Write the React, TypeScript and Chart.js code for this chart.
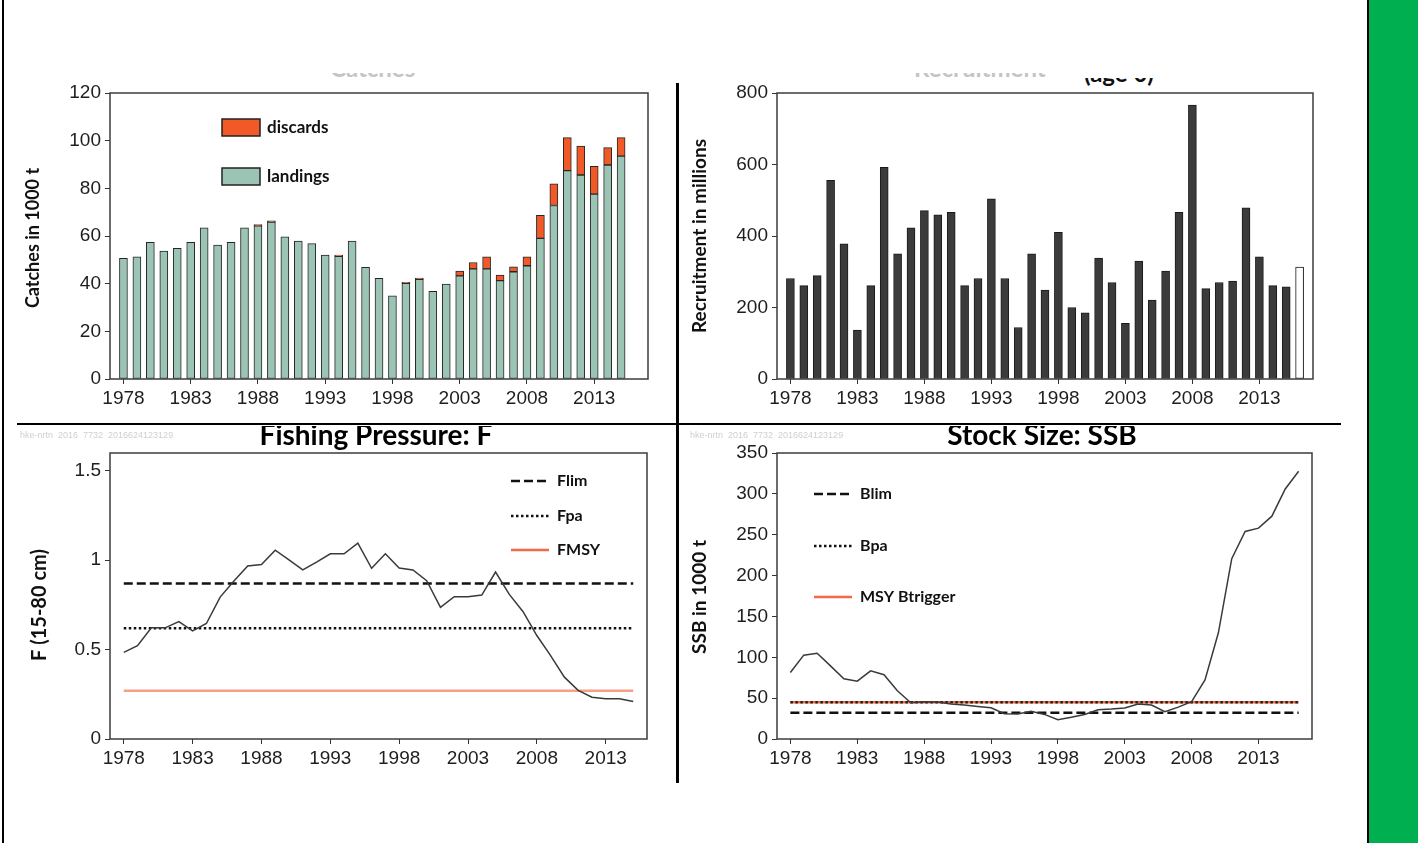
import React, { useEffect, useRef } from 'react';
import { Chart, registerables } from 'chart.js';
Chart.register(...registerables);

// ---------- data ----------
const catchYears = [1978, 1979, 1980, 1981, 1982, 1983, 1984, 1985, 1986, 1987, 1988, 1989, 1990, 1991, 1992, 1993, 1994, 1995, 1996, 1997, 1998, 1999, 2000, 2001, 2002, 2003, 2004, 2005, 2006, 2007, 2008, 2009, 2010, 2011, 2012, 2013, 2014, 2015];
const landings = [50.6, 51.3, 57.3, 53.7, 54.8, 57.3, 63.4, 56.2, 57.3, 63.4, 64.3, 65.8, 59.7, 57.9, 56.8, 52.0, 51.5, 57.9, 46.9, 42.2, 34.9, 40.1, 41.8, 36.8, 39.8, 43.3, 46.2, 46.2, 41.3, 45.0, 47.5, 59.0, 72.8, 87.4, 85.6, 77.6, 89.8, 93.5];
const discards = [0, 0, 0, 0, 0, 0, 0, 0, 0, 0, 0.5, 0.6, 0, 0, 0, 0, 0.5, 0, 0, 0, 0, 0.5, 0.5, 0, 0, 2.0, 2.7, 5.1, 2.3, 2.1, 3.8, 9.7, 9.1, 13.9, 12.1, 11.6, 7.3, 7.8];

const recruitYears = [1978, 1979, 1980, 1981, 1982, 1983, 1984, 1985, 1986, 1987, 1988, 1989, 1990, 1991, 1992, 1993, 1994, 1995, 1996, 1997, 1998, 1999, 2000, 2001, 2002, 2003, 2004, 2005, 2006, 2007, 2008, 2009, 2010, 2011, 2012, 2013, 2014, 2015, 2016];
const recruitment = [281, 261, 289, 556, 378, 137, 261, 592, 350, 423, 471, 459, 466, 261, 281, 504, 281, 144, 350, 249, 410, 200, 185, 338, 270, 156, 330, 221, 302, 466, 766, 253, 270, 274, 479, 342, 261, 258, 313];

const fYears = [1978, 1979, 1980, 1981, 1982, 1983, 1984, 1985, 1986, 1987, 1988, 1989, 1990, 1991, 1992, 1993, 1994, 1995, 1996, 1997, 1998, 1999, 2000, 2001, 2002, 2003, 2004, 2005, 2006, 2007, 2008, 2009, 2010, 2011, 2012, 2013, 2014, 2015];
const fishingMortality = [0.485, 0.522, 0.622, 0.622, 0.657, 0.605, 0.646, 0.794, 0.884, 0.968, 0.976, 1.056, 1.002, 0.946, 0.989, 1.036, 1.036, 1.096, 0.955, 1.036, 0.957, 0.946, 0.886, 0.736, 0.796, 0.796, 0.805, 0.934, 0.809, 0.712, 0.579, 0.466, 0.346, 0.272, 0.234, 0.225, 0.225, 0.210];

const ssbYears = [1978, 1979, 1980, 1981, 1982, 1983, 1984, 1985, 1986, 1987, 1988, 1989, 1990, 1991, 1992, 1993, 1994, 1995, 1996, 1997, 1998, 1999, 2000, 2001, 2002, 2003, 2004, 2005, 2006, 2007, 2008, 2009, 2010, 2011, 2012, 2013, 2014, 2015, 2016];
const ssb = [81.4, 102.6, 105, 89.5, 73.7, 70.8, 83.4, 78.6, 59, 44.4, 45.5, 45.2, 42.7, 41.5, 39.9, 38.3, 30.9, 30.5, 33.8, 30.1, 23.6, 26.5, 30.1, 35.8, 36.6, 37.9, 42.7, 41.5, 33.4, 39, 45.6, 72.4, 130, 220.6, 254, 258, 272.7, 306, 327.6];

const Flim = 0.87;
const Fpa = 0.62;
const Fmsy = 0.27;
const Blim = 32;
const Bpa = 45;
const MSYBtrigger = 45;

const yearTicks = [1978, 1983, 1988, 1993, 1998, 2003, 2008, 2013];
const catchTicks = [0, 20, 40, 60, 80, 100, 120];
const recruitTicks = [0, 200, 400, 600, 800];
const fTicks = [0, 0.5, 1, 1.5];
const ssbTicks = [0, 50, 100, 150, 200, 250, 300, 350];

// ---------- styles ----------
const TICK_FONT = { family: '"Liberation Sans Narrow", "Arial Narrow", "Liberation Sans", Arial, sans-serif', size: 19 };
const TICK_COLOR = '#1e1e1e';
const BOLD = 'Lato, "Open Sans", "Liberation Sans", sans-serif';

type LegendItem = { kind: 'box' | 'line'; text: string; dx: number; dy: number; color: string; dash?: number[]; width?: number };
type Extra = {
  yTitle: { text: string; x: number; y: number; size: number };
  title?: { text: string; x: number; y: number; size: number };
  legend: LegendItem[];
  legendSize: number;
};

function extrasPlugin(ex: Extra) {
  return {
    id: 'extras',
    afterDraw(chart: any) {
      const ctx: CanvasRenderingContext2D = chart.ctx;
      const a = chart.chartArea;
      ctx.save();
      ctx.setLineDash([]);
      ctx.strokeStyle = '#3c3c3c';
      ctx.lineWidth = 1.5;
      ctx.strokeRect(a.left, a.top, a.right - a.left, a.bottom - a.top);
      ctx.save();
      ctx.translate(ex.yTitle.x, ex.yTitle.y);
      ctx.rotate(-Math.PI / 2);
      ctx.font = `bold ${ex.yTitle.size}px ${BOLD}`;
      ctx.fillStyle = '#111';
      ctx.textAlign = 'center';
      ctx.textBaseline = 'middle';
      ctx.fillText(ex.yTitle.text, 0, 0);
      ctx.restore();
      if (ex.title) {
        ctx.font = `bold ${ex.title.size}px ${BOLD}`;
        ctx.fillStyle = '#000';
        ctx.textAlign = 'center';
        ctx.textBaseline = 'middle';
        ctx.fillText(ex.title.text, ex.title.x, ex.title.y);
      }
      ctx.font = `bold ${ex.legendSize}px ${BOLD}`;
      ctx.textAlign = 'left';
      ctx.textBaseline = 'middle';
      ex.legend.forEach((it) => {
        const x = a.left + it.dx;
        const y = a.top + it.dy;
        if (it.kind === 'box') {
          ctx.setLineDash([]);
          ctx.fillStyle = it.color;
          ctx.fillRect(x, y, 38, 17);
          ctx.strokeStyle = '#222';
          ctx.lineWidth = 1.5;
          ctx.strokeRect(x, y, 38, 17);
          ctx.fillStyle = '#111';
          ctx.fillText(it.text, x + 45, y + 8.5);
        } else {
          ctx.setLineDash(it.dash || []);
          ctx.strokeStyle = it.color;
          ctx.lineWidth = it.width || 2;
          ctx.beginPath();
          ctx.moveTo(x, y);
          ctx.lineTo(x + 38, y);
          ctx.stroke();
          ctx.setLineDash([]);
          ctx.fillStyle = '#111';
          ctx.fillText(it.text, x + 46, y);
        }
      });
      ctx.restore();
    },
  };
}

function axisX(min: number, max: number, height: number, stacked = false) {
  return {
    type: 'linear',
    min,
    max,
    offset: false,
    stacked,
    afterBuildTicks: (s: any) => {
      s.ticks = yearTicks.map((v) => ({ value: v }));
    },
    afterFit: (s: any) => {
      s.height = height;
    },
    grid: { display: true, drawOnChartArea: false, drawTicks: true, tickLength: 5, color: '#333', lineWidth: 1, offset: false },
    border: { display: false },
    ticks: { font: TICK_FONT, color: TICK_COLOR, padding: 3, maxRotation: 0, autoSkip: false, callback: (v: any) => String(v) },
  };
}

function axisY(min: number, max: number, ticks: number[], width: number, stacked = false) {
  return {
    type: 'linear',
    min,
    max,
    stacked,
    afterBuildTicks: (s: any) => {
      s.ticks = ticks.map((v) => ({ value: v }));
    },
    afterFit: (s: any) => {
      s.width = width;
    },
    grid: { display: true, drawOnChartArea: false, drawTicks: true, tickLength: 5, color: '#333', lineWidth: 1 },
    border: { display: false },
    ticks: { font: TICK_FONT, color: TICK_COLOR, padding: 4, callback: (v: any) => String(v) },
  };
}

const pts = (xs: number[], ys: (number | null)[]) => xs.map((x, i) => ({ x, y: ys[i] }));
const flat = (xs: number[], v: number) => [{ x: xs[0], y: v }, { x: xs[xs.length - 1], y: v }];

function buildCatches(): any {
  return {
    type: 'bar',
    data: {
      datasets: [
        { label: 'landings', data: pts(catchYears, landings), backgroundColor: '#9CC4B5', borderColor: '#262626', borderWidth: 1, borderSkipped: false, barThickness: 8, stack: 's' },
        { label: 'discards', data: pts(catchYears, discards.map((d) => (d > 0 ? d : null))), backgroundColor: '#F15A27', borderColor: '#262626', borderWidth: 1, borderSkipped: false, barThickness: 8, stack: 's' },
      ],
    },
    options: {
      animation: false,
      responsive: false,
      maintainAspectRatio: false,
      layout: { padding: { top: 33, right: 22, left: 0, bottom: 0 } },
      plugins: { legend: { display: false }, tooltip: { enabled: false }, title: { display: false } },
      scales: { x: axisX(1977, 2017, 41, true), y: axisY(0, 120, catchTicks, 100, true) },
    },
    plugins: [
      extrasPlugin({
        yTitle: { text: 'Catches in 1000 t', x: 23, y: 178, size: 18 },
        legendSize: 17,
        legend: [
          { kind: 'box', text: 'discards', dx: 112, dy: 26, color: '#F15A27' },
          { kind: 'box', text: 'landings', dx: 112, dy: 75, color: '#9CC4B5' },
        ],
      }),
    ],
  };
}

function buildRecruitment(): any {
  return {
    type: 'bar',
    data: {
      datasets: [
        {
          label: 'recruitment',
          data: pts(recruitYears, recruitment),
          backgroundColor: recruitYears.map((y, i) => (i === recruitYears.length - 1 ? '#ffffff' : '#3b3b3b')),
          borderColor: '#1a1a1a',
          borderWidth: 1,
          borderSkipped: false,
          barThickness: 8,
        },
      ],
    },
    options: {
      animation: false,
      responsive: false,
      maintainAspectRatio: false,
      layout: { padding: { top: 33, right: 17, left: 0, bottom: 0 } },
      plugins: { legend: { display: false }, tooltip: { enabled: false } },
      scales: { x: axisX(1977, 2017, 41), y: axisY(0, 800, recruitTicks, 97) },
    },
    plugins: [
      extrasPlugin({
        yTitle: { text: 'Recruitment in millions', x: 20, y: 176, size: 19 },
        legendSize: 16,
        legend: [],
      }),
    ],
  };
}

function lineSet(data: any[], color: string, width: number, dash: number[] = []) {
  return { data, borderColor: color, borderWidth: width, borderDash: dash, pointRadius: 0, fill: false, tension: 0 };
}

function buildF(): any {
  return {
    type: 'line',
    data: {
      datasets: [
        lineSet(pts(fYears, fishingMortality), '#3a3a3a', 1.5),
        lineSet(flat(fYears, Flim), '#111', 2.5, [9, 4]),
        lineSet(flat(fYears, Fpa), '#111', 2.5, [2.5, 2.5]),
        lineSet(flat(fYears, Fmsy), '#F7A084', 2.5),
      ],
    },
    options: {
      animation: false,
      responsive: false,
      maintainAspectRatio: false,
      layout: { padding: { top: 27, right: 23, left: 0, bottom: 0 } },
      plugins: { legend: { display: false }, tooltip: { enabled: false } },
      scales: { x: axisX(1977, 2016, 47), y: axisY(0, 1.6, fTicks, 100) },
    },
    plugins: [
      extrasPlugin({
        yTitle: { text: 'F (15-80 cm)', x: 30, y: 179, size: 20 },
        title: { text: 'Fishing Pressure: F', x: 366, y: 10, size: 28 },
        legendSize: 16,
        legend: [
          { kind: 'line', text: 'Flim', dx: 401, dy: 28, color: '#111', dash: [9, 4], width: 2.5 },
          { kind: 'line', text: 'Fpa', dx: 401, dy: 63, color: '#111', dash: [2.5, 2.5], width: 2.5 },
          { kind: 'line', text: 'FMSY', dx: 401, dy: 97, color: '#F26A45', width: 2.5 },
        ],
      }),
    ],
  };
}

function buildSSB(): any {
  return {
    type: 'line',
    data: {
      datasets: [
        lineSet(pts(ssbYears, ssb), '#3a3a3a', 1.5),
        lineSet(flat(ssbYears, Bpa), '#222', 2.5, [2.5, 2.5]),
        lineSet(flat(ssbYears, Blim), '#111', 2.5, [9, 4]),
        lineSet(flat(ssbYears, MSYBtrigger), '#EE6A45', 2.5),
      ],
    },
    options: {
      animation: false,
      responsive: false,
      maintainAspectRatio: false,
      layout: { padding: { top: 27, right: 18, left: 0, bottom: 0 } },
      plugins: { legend: { display: false }, tooltip: { enabled: false } },
      scales: { x: axisX(1977, 2017, 47), y: axisY(0, 350, ssbTicks, 97) },
    },
    plugins: [
      extrasPlugin({
        yTitle: { text: 'SSB in 1000 t', x: 20, y: 171, size: 19 },
        title: { text: 'Stock Size: SSB', x: 362, y: 10, size: 28 },
        legendSize: 16,
        legend: [
          { kind: 'line', text: 'Blim', dx: 37, dy: 41, color: '#111', dash: [9, 4], width: 2.5 },
          { kind: 'line', text: 'Bpa', dx: 37, dy: 93, color: '#111', dash: [2.5, 2.5], width: 2.5 },
          { kind: 'line', text: 'MSY Btrigger', dx: 37, dy: 144, color: '#F26A45', width: 2.5 },
        ],
      }),
    ],
  };
}

function ChartCanvas({ left, top, width, height, build }: { left: number; top: number; width: number; height: number; build: () => any }) {
  const ref = useRef<HTMLCanvasElement>(null);
  useEffect(() => {
    if (!ref.current) return;
    const chart = new Chart(ref.current, build());
    return () => chart.destroy();
  }, []);
  return <canvas ref={ref} width={width} height={height} style={{ position: 'absolute', left, top, width, height }} />;
}

const abs = (l: number, t: number, w: number, h: number, bg: string): React.CSSProperties => ({ position: 'absolute', left: l, top: t, width: w, height: h, background: bg });

export default function App() {
  const wm = 'hke-nrtn  2016  7732  2016624123129';
  return (
    <div style={{ position: 'absolute', left: 0, top: 0, width: 1418, height: 843, overflow: 'hidden', background: '#fff' }}>
      {/* faint, mostly hidden panel titles */}
      <div style={{ position: 'absolute', left: 300, top: 73, width: 200, height: 4, overflow: 'hidden' }}>
        <div style={{ position: 'absolute', left: 30, top: -17, font: `bold 24px ${BOLD}`, lineHeight: '24px', color: '#c4c4c4', whiteSpace: 'nowrap' }}>Catches</div>
      </div>
      <div style={{ position: 'absolute', left: 900, top: 73, width: 180, height: 4, overflow: 'hidden' }}>
        <div style={{ position: 'absolute', left: 14, top: -17, font: `bold 24px ${BOLD}`, lineHeight: '24px', color: '#c4c4c4', whiteSpace: 'nowrap' }}>Recruitment</div>
      </div>
      <div style={{ position: 'absolute', left: 1080, top: 78, width: 120, height: 11, overflow: 'hidden' }}>
        <div style={{ position: 'absolute', left: 4, top: -17, font: `bold 24px ${BOLD}`, lineHeight: '24px', color: '#111', whiteSpace: 'nowrap' }}>(age 0)</div>
      </div>

      <ChartCanvas left={10} top={60} width={660} height={360} build={buildCatches} />
      <ChartCanvas left={680} top={60} width={650} height={360} build={buildRecruitment} />
      <ChartCanvas left={10} top={426} width={660} height={360} build={buildF} />
      <ChartCanvas left={680} top={426} width={650} height={360} build={buildSSB} />

      <div style={{ position: 'absolute', left: 20, top: 430, font: '9px "Liberation Sans", sans-serif', color: '#cfcfcf', whiteSpace: 'pre' }}>{wm}</div>
      <div style={{ position: 'absolute', left: 690, top: 430, font: '9px "Liberation Sans", sans-serif', color: '#cfcfcf', whiteSpace: 'pre' }}>{wm}</div>

      {/* frame and separators */}
      <div style={abs(2, 0, 2, 843, '#000')} />
      <div style={abs(17, 423, 1324, 2, '#000')} />
      <div style={abs(676, 83, 3, 700, '#000')} />
      <div style={abs(1367, 0, 2, 843, '#000')} />
      <div style={abs(1369, 0, 49, 843, '#00B050')} />
    </div>
  );
}
